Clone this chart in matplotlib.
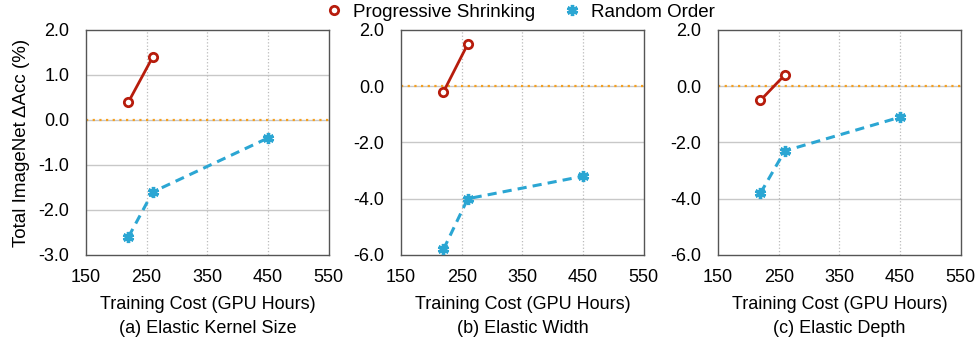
import matplotlib.pyplot as plt
from matplotlib.ticker import FormatStrFormatter
from matplotlib.lines import Line2D

plt.rcParams['font.family'] = ['Liberation Sans', 'DejaVu Sans']

titles = ['(a) Elastic Kernel Size', '(b) Elastic Width', '(c) Elastic Depth']
ps_cost = [220, 260]
ro_cost = [220, 260, 450]
ps_acc = [[0.4, 1.4], [-0.2, 1.5], [-0.5, 0.4]]
ro_acc = [[-2.6, -1.6, -0.4], [-5.8, -4.0, -3.2], [-3.8, -2.3, -1.1]]
ylims = [(-3.0, 2.0), (-6.0, 2.0), (-6.0, 2.0)]
ysteps = [1.0, 2.0, 2.0]
xticks = [150, 250, 350, 450, 550]

red = '#B71C0C'
blue = '#2BA6D3'
orange = '#F5A020'

fig = plt.figure(figsize=(9.79, 3.43), dpi=100)
lefts = [0.0878, 0.4096, 0.7334]

for i in range(3):
    ax = fig.add_axes([lefts[i], 0.2566, 0.248, 0.656])
    lo, hi = ylims[i]
    yt = [lo + k * ysteps[i] for k in range(int(round((hi - lo) / ysteps[i])) + 1)]
    ax.set_xlim(150, 550)
    ax.set_ylim(lo, hi)
    ax.set_xticks(xticks)
    ax.set_yticks(yt)
    ax.yaxis.set_major_formatter(FormatStrFormatter('%.1f'))
    for y in yt[1:-1]:
        ax.axhline(y, color='#C8C8C8', lw=1.0, zorder=0)
    for x in xticks[1:-1]:
        ax.axvline(x, color='#BBBBBB', lw=0.9, ls=':', zorder=0)
    ax.axhline(0, color=orange, lw=1.6, ls=(0, (1, 2)), zorder=1)
    ax.plot(ro_cost, ro_acc[i], color=blue, lw=2.2, ls=(0, (3, 2)),
            marker=(6, 2, 0), ms=8, mew=2.4, zorder=3)
    ax.plot(ps_cost, ps_acc[i], color=red, lw=2.0, marker='o', ms=6,
            mfc='white', mec=red, mew=2.0, zorder=4)
    for s in ax.spines.values():
        s.set_color('#555555')
        s.set_linewidth(1.0)
    ax.tick_params(axis='x', length=0, labelsize=13, pad=10)
    ax.tick_params(axis='y', length=0, labelsize=13, pad=12)
    ax.set_xlabel('Training Cost (GPU Hours)', fontsize=13, labelpad=7)
    ax.text(0.5, -0.325, titles[i], transform=ax.transAxes, ha='center',
            va='center', fontsize=13)
    if i == 0:
        ax.set_ylabel('Total ImageNet \u0394Acc (%)', fontsize=13.5, labelpad=6)

handles = [
    Line2D([], [], ls='none', marker='o', ms=6, mfc='white', mec=red, mew=2.0),
    Line2D([], [], ls='none', marker=(6, 2, 0), ms=8, mec=blue, color=blue, mew=2.4),
]
fig.legend(handles, ['Progressive Shrinking', 'Random Order'], loc='center',
           bbox_to_anchor=(0.531, 0.965), ncol=2, frameon=False, fontsize=13.5,
           handletextpad=0.5, columnspacing=1.5, handlelength=1.0)

fig.savefig('out.png', dpi=100)
